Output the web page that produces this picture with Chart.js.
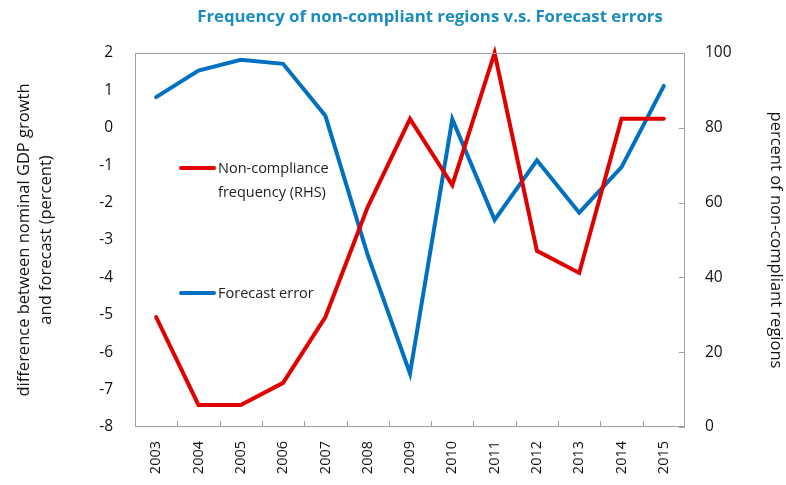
<!DOCTYPE html>
<html>
<head>
<meta charset="utf-8">
<script src="https://cdn.jsdelivr.net/npm/chart.js@4.4.1/dist/chart.umd.min.js"></script>
<style>
  html, body { margin: 0; padding: 0; background: #fff; }
  #wrap { width: 786px; height: 485px; position: relative; }
</style>
</head>
<body>
<div id="wrap"><canvas id="chart" width="786" height="485"></canvas></div>
<script>
  // ---- data ---------------------------------------------------------------
  const YEARS = ["2003", "2004", "2005", "2006", "2007", "2008", "2009", "2010", "2011", "2012", "2013", "2014", "2015"];
  // forecast error, percentage points (left axis)
  const FORECAST_ERROR = [0.82, 1.53, 1.82, 1.71, 0.32, -3.4, -6.57, 0.23, -2.46, -0.87, -2.27, -1.05, 1.12];
  // share of non-compliant regions, percent (right axis)
  const NON_COMPLIANCE = [29.4, 5.9, 5.9, 11.8, 29.4, 58.8, 82.4, 64.7, 100, 47.1, 41.2, 82.4, 82.4];
  const LEFT_TICKS = [-8, -7, -6, -5, -4, -3, -2, -1, 0, 1, 2];
  const RIGHT_TICKS = [0, 20, 40, 60, 80, 100];

  const RED = "#e00000";
  const BLUE = "#0070c0";
  const AXIS = "#a0a0a0";
  const FONT = "'Open Sans', 'Noto Sans', sans-serif";

  // frame round the plot, inward tick marks, title and inline legend
  const decor = {
    id: "decor",
    afterDraw(chart) {
      const ctx = chart.ctx;
      const a = chart.chartArea;
      const x = chart.scales.x;
      const yr = chart.scales.yR;
      ctx.save();
      ctx.strokeStyle = AXIS;
      ctx.lineWidth = 1;
      ctx.strokeRect(a.left + 0.5, a.top + 0.5, a.right - a.left - 1, a.bottom - a.top - 1);
      ctx.beginPath();
      for (let i = 1; i < YEARS.length; i++) {
        const px = Math.round((x.getPixelForValue(i - 1) + x.getPixelForValue(i)) / 2) + 0.5;
        ctx.moveTo(px, a.bottom);
        ctx.lineTo(px, a.bottom - 6);
      }
      RIGHT_TICKS.forEach((t) => {
        const py = Math.round(yr.getPixelForValue(t)) + 0.5;
        ctx.moveTo(a.right, py);
        ctx.lineTo(a.right - 6, py);
      });
      ctx.stroke();

      // title
      ctx.fillStyle = "#1a8cbf";
      ctx.font = "bold 16.8px " + FONT;
      ctx.textAlign = "center";
      ctx.textBaseline = "middle";
      ctx.fillText("Frequency of non-compliant regions v.s. Forecast errors", 430, 17);

      // legend
      ctx.lineWidth = 4;
      ctx.lineCap = "round";
      ctx.strokeStyle = RED;
      ctx.beginPath();
      ctx.moveTo(181, 168);
      ctx.lineTo(214, 168);
      ctx.stroke();
      ctx.strokeStyle = BLUE;
      ctx.beginPath();
      ctx.moveTo(181, 293);
      ctx.lineTo(214, 293);
      ctx.stroke();
      ctx.fillStyle = "#222";
      ctx.font = "14.5px " + FONT;
      ctx.textAlign = "left";
      ctx.fillText("Non-compliance", 218, 169);
      ctx.fillText("frequency (RHS)", 218, 193);
      ctx.fillText("Forecast error", 218, 294);
      ctx.restore();
    },
  };

  new Chart(document.getElementById("chart"), {
    type: "line",
    data: {
      labels: YEARS,
      datasets: [
        { label: "Non-compliance frequency (RHS)", data: NON_COMPLIANCE, yAxisID: "yR", borderColor: RED, borderWidth: 4, pointRadius: 0, tension: 0, borderCapStyle: "round" },
        { label: "Forecast error", data: FORECAST_ERROR, yAxisID: "y", borderColor: BLUE, borderWidth: 4, pointRadius: 0, tension: 0, borderCapStyle: "round" },
      ],
    },
    options: {
      responsive: false,
      animation: false,
      clip: false,
      layout: { padding: { top: 53, left: 0, right: 0, bottom: 0 } },
      plugins: { legend: { display: false }, tooltip: { enabled: false } },
      scales: {
        x: {
          offset: true,
          grid: { display: false },
          border: { display: false },
          ticks: { color: "#111", font: { family: FONT, size: 14.5 }, minRotation: 90, maxRotation: 90, autoSkip: false, padding: 6 },
          afterFit: (s) => { s.height = 58; },
        },
        y: {
          position: "left",
          min: -8,
          max: 2,
          afterBuildTicks: (s) => { s.ticks = LEFT_TICKS.map((v) => ({ value: v })); },
          grid: { display: false },
          border: { display: false },
          ticks: { color: "#111", font: { family: FONT, size: 15.5 }, padding: 14 },
          title: {
            display: true,
            text: ["difference between nominal GDP growth", "and forecast (percent)"],
            color: "#111",
            font: { family: FONT, size: 16.5, lineHeight: 1.3 },
            padding: { top: 14, bottom: 0 },
          },
          afterFit: (s) => { s.width = 135; },
        },
        yR: {
          position: "right",
          min: 0,
          max: 100,
          afterBuildTicks: (s) => { s.ticks = RIGHT_TICKS.map((v) => ({ value: v })); },
          grid: { display: false },
          border: { display: false },
          ticks: { color: "#111", font: { family: FONT, size: 15.5 }, padding: 12 },
          title: {
            display: true,
            text: "percent of non-compliant regions",
            color: "#111",
            font: { family: FONT, size: 16.5 },
            padding: { top: 0, bottom: 2 },
          },
          afterFit: (s) => { s.width = 101; },
        },
      },
    },
    plugins: [decor],
  });
</script>
</body>
</html>
